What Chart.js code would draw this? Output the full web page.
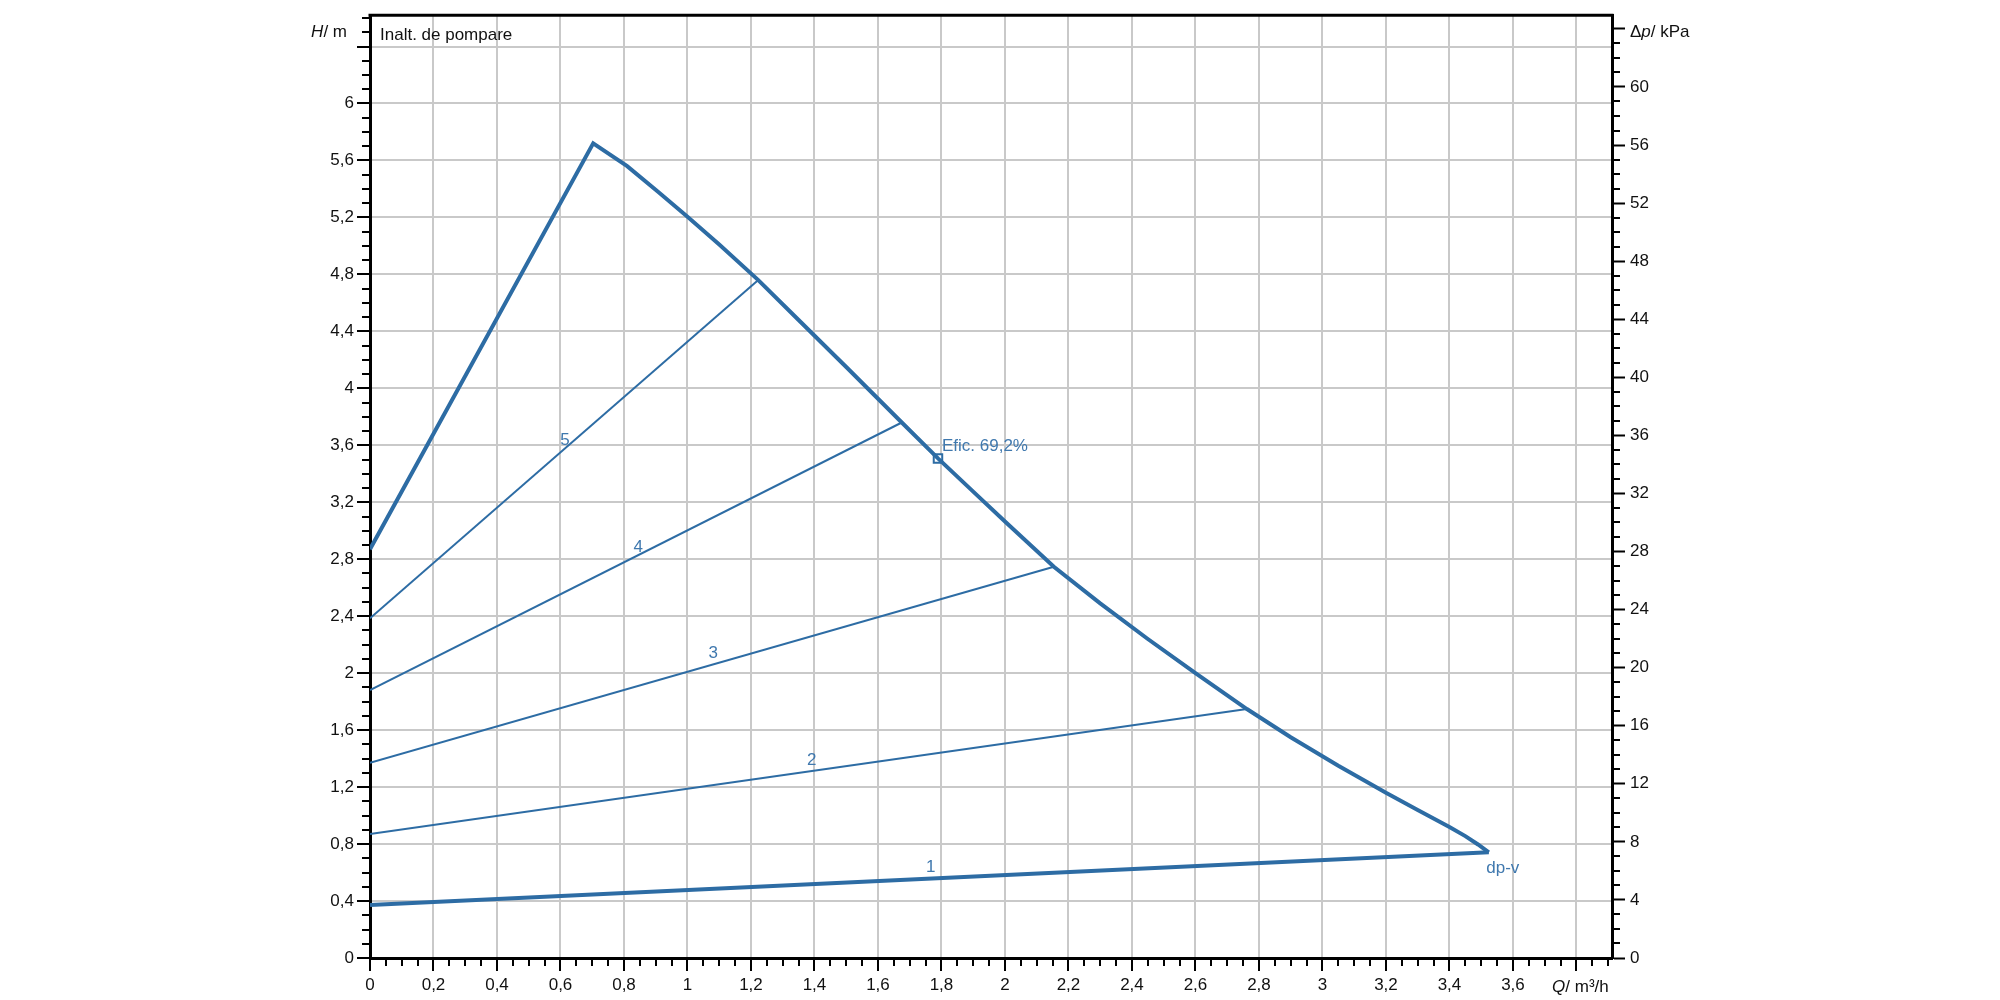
<!DOCTYPE html>
<html>
<head>
<meta charset="utf-8">
<title>Inalt. de pompare</title>
<script src="https://cdn.jsdelivr.net/npm/chart.js@4.4.1/dist/chart.umd.min.js"></script>
<style>
  html, body { margin: 0; padding: 0; background: #fff; }
  #pumpChart { display: block; }
</style>
</head>
<body>
<canvas id="pumpChart" width="2000" height="1000"></canvas>
<script>
// Pump curve: max curve + dp-v control lines 1..5

// axis ranges (Q in m3/h, H in m, dp in kPa)
const qMax = 3.912;
const hMax = 6.62;
const kPaPerM = 9.81;

// max curve
const maxQ = [0, 0.703, 0.81, 0.91, 1.0, 1.1, 1.223, 1.35, 1.5, 1.675, 1.789, 1.9, 2.0, 2.154,
              2.3, 2.45, 2.6, 2.762, 2.9, 3.05, 3.2, 3.3, 3.4, 3.45, 3.49, 3.524];
const maxH = [2.87, 5.72, 5.56, 5.375, 5.205, 5.01, 4.76, 4.48, 4.15, 3.76, 3.508, 3.275, 3.065, 2.747,
              2.49, 2.24, 2.0, 1.748, 1.55, 1.35, 1.16, 1.04, 0.92, 0.856, 0.797, 0.742];

// dp-v lines: start at Q=0, end on the max curve
const lineNames = ['1', '2', '3', '4', '5'];
const lineStartH = [0.372, 0.87, 1.371, 1.881, 2.385];
const lineEndQ = [3.524, 2.762, 2.154, 1.675, 1.223];
const lineEndH = [0.742, 1.748, 2.747, 3.76, 4.76];

// duty point
const dutyQ = 1.789;
const dutyH = 3.508;
const dutyText = 'Efic. 69,2%';

// curve labels [text, Q, H]
const curveLabels = [
    ['5', 0.614, 3.636],
    ['4', 0.845, 2.887],
    ['3', 1.081, 2.139],
    ['2', 1.391, 1.39],
    ['1', 1.766, 0.639],
    ['dp-v', 3.568, 0.63]
];

const BLUE = '#2d6ca4';
const LABEL_BLUE = '#3f78ae';
const GRID = '#c9c9c9';
const FONT = "'Liberation Sans', Arial, sans-serif";
const FS = 17;

function fmt(v) {
    return String(Math.round(v * 10) / 10).replace('.', ',');
}

function near(a, b) {
    return Math.abs(a - b) < 1e-6;
}

// draw text made of parts, some italic
function drawParts(ctx, parts, x, y, align) {
    let total = 0;
    parts.forEach(p => {
        ctx.font = (p[1] ? 'italic ' : '') + FS + 'px ' + FONT;
        total += ctx.measureText(p[0]).width;
    });
    let cx = x;
    if (align === 'right') cx = x - total;
    if (align === 'center') cx = x - total / 2;
    ctx.textAlign = 'left';
    ctx.textBaseline = 'middle';
    parts.forEach(p => {
        ctx.font = (p[1] ? 'italic ' : '') + FS + 'px ' + FONT;
        ctx.fillText(p[0], cx, y);
        cx += ctx.measureText(p[0]).width;
    });
}

const decorPlugin = {
    id: 'decor',
    afterDatasetsDraw(chart) {
        const ctx = chart.ctx;
        const xs = chart.scales.x;
        const ys = chart.scales.y;
        ctx.save();
        ctx.fillStyle = LABEL_BLUE;
        ctx.font = FS + 'px ' + FONT;
        ctx.textAlign = 'center';
        ctx.textBaseline = 'middle';
        curveLabels.forEach(l => {
            ctx.fillText(l[0], xs.getPixelForValue(l[1]), ys.getPixelForValue(l[2]));
        });
        ctx.textAlign = 'left';
        ctx.fillText(dutyText, xs.getPixelForValue(dutyQ) + 4, ys.getPixelForValue(dutyH) - 12);
        ctx.restore();
    },
    afterDraw(chart) {
        const ctx = chart.ctx;
        const a = chart.chartArea;
        const xs = chart.scales.x;
        const ys = chart.scales.y;
        const y2 = chart.scales.y2;
        ctx.save();
        // minor ticks
        ctx.strokeStyle = '#000';
        ctx.lineWidth = 2;
        ctx.beginPath();
        for (let i = 0; i * 0.05 <= qMax; i++) {
            if (i % 4 === 0) continue;
            const px = Math.round(xs.getPixelForValue(i * 0.05));
            ctx.moveTo(px, a.bottom);
            ctx.lineTo(px, a.bottom + 8);
        }
        for (let i = 0; i * 0.1 <= hMax; i++) {
            if (i % 4 === 0) continue;
            const py = Math.round(ys.getPixelForValue(i * 0.1));
            ctx.moveTo(a.left - 8, py);
            ctx.lineTo(a.left, py);
        }
        for (let i = 0; i <= hMax * kPaPerM; i++) {
            if (i % 4 === 0) continue;
            const py = Math.round(y2.getPixelForValue(i));
            ctx.moveTo(a.right, py);
            ctx.lineTo(a.right + 8, py);
        }
        ctx.stroke();
        // top frame line
        ctx.lineWidth = 3;
        ctx.beginPath();
        ctx.moveTo(a.left - 1.5, a.top);
        ctx.lineTo(a.right + 1.5, a.top);
        ctx.stroke();

        // axis titles
        ctx.fillStyle = '#111';
        drawParts(ctx, [['H', true], ['/ m', false]], a.left - 23, a.top + 17, 'right');
        drawParts(ctx, [['\u0394', false], ['p', true], ['/ kPa', false]], a.right + 18, a.top + 17, 'left');
        drawParts(ctx, [['Q', true], ['/ m\u00b3/h', false]], xs.getPixelForValue(3.8) + 4, a.bottom + 29, 'center');
        drawParts(ctx, [['Inalt. de pompare', false]], a.left + 10, a.top + 20, 'left');
        ctx.restore();
    }
};

const datasets = [];
for (let i = lineNames.length - 1; i >= 0; i--) {
    datasets.push({
        label: lineNames[i],
        data: [{ x: 0, y: lineStartH[i] }, { x: lineEndQ[i], y: lineEndH[i] }],
        borderColor: BLUE,
        borderWidth: i === 0 ? 4 : 2,
        showLine: true,
        pointRadius: 0,
        fill: false
    });
}
datasets.push({
    label: 'max',
    data: maxQ.map((q, i) => ({ x: q, y: maxH[i] })),
    borderColor: BLUE,
    borderWidth: 4,
    showLine: true,
    pointRadius: 0,
    fill: false
});
datasets.push({
    label: 'duty',
    data: [{ x: dutyQ, y: dutyH }],
    borderColor: BLUE,
    backgroundColor: '#fff',
    pointStyle: 'rect',
    pointRadius: 6,
    borderWidth: 2,
    showLine: false
});

Chart.defaults.font.family = FONT;
Chart.defaults.font.size = FS;
Chart.defaults.color = '#111';

const gridOpts = {
    color: GRID,
    lineWidth: 2,
    tickColor: '#000',
    tickWidth: 2,
    tickLength: 13
};

new Chart(document.getElementById('pumpChart'), {
    type: 'scatter',
    data: { datasets: datasets },
    options: {
        responsive: false,
        animation: false,
        layout: { padding: { top: 15, left: 0, right: 0, bottom: 0 } },
        plugins: {
            legend: { display: false },
            tooltip: { enabled: false }
        },
        scales: {
            x: {
                type: 'linear',
                position: 'bottom',
                min: 0,
                max: qMax,
                grid: gridOpts,
                border: { color: '#000', width: 3 },
                ticks: {
                    stepSize: 0.2,
                    includeBounds: false,
                    autoSkip: false,
                    maxRotation: 0,
                    padding: 4,
                    callback: v => near(v, 3.8) ? '' : fmt(v)
                },
                afterFit: s => { s.height = 42; }
            },
            y: {
                type: 'linear',
                position: 'left',
                min: 0,
                max: hMax,
                grid: gridOpts,
                border: { color: '#000', width: 3 },
                ticks: {
                    stepSize: 0.4,
                    includeBounds: false,
                    autoSkip: false,
                    padding: 3,
                    callback: v => v > 6.3 ? '' : fmt(v)
                },
                afterFit: s => { s.width = 370; }
            },
            y2: {
                type: 'linear',
                position: 'right',
                min: 0,
                max: hMax * kPaPerM,
                grid: { drawOnChartArea: false, tickColor: '#000', tickWidth: 2, tickLength: 13 },
                border: { color: '#000', width: 3 },
                ticks: {
                    stepSize: 4,
                    includeBounds: false,
                    autoSkip: false,
                    padding: 5,
                    callback: v => v > 62 ? '' : String(v)
                },
                afterFit: s => { s.width = 388; }
            }
        }
    },
    plugins: [decorPlugin]
});
</script>
</body>
</html>
